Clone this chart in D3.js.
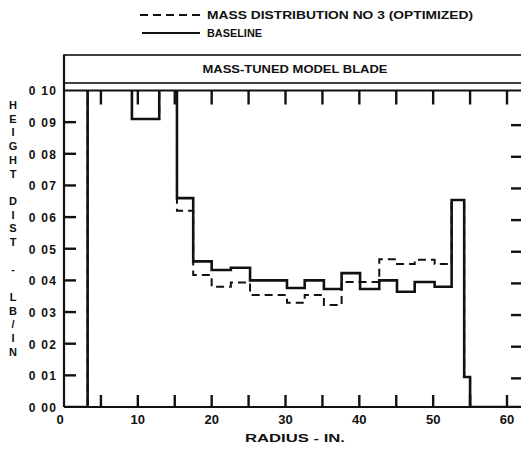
<!DOCTYPE html>
<html>
<head>
<meta charset="utf-8">
<script src="https://cdn.jsdelivr.net/npm/d3@7"></script>
<style>
  body { margin: 0; background: #fff; }
  text { font-family: "Liberation Sans", Arial, sans-serif; font-weight: bold; fill: #111; }
</style>
</head>
<body>
<script>
// step edges along the blade (in.) and the value held on each segment
const radiusEdges = [0, 3.2, 9.2, 12.9, 15.3, 17.5, 20.0, 22.6, 25.2, 30.2, 32.6, 35.2, 37.6, 40.1, 42.7, 45.1, 47.5, 50.2, 52.5, 54.2, 55.0, 62]
const baseline = [0, 0.12, 0.091, 0.12, 0.066, 0.046, 0.0433, 0.044, 0.040, 0.0376, 0.040, 0.0373, 0.0423, 0.0373, 0.040, 0.0364, 0.0395, 0.038, 0.0654, 0.0095, 0]
const optimized = [0, 0.12, 0.091, 0.12, 0.062, 0.0417, 0.038, 0.0393, 0.0354, 0.0329, 0.0354, 0.0322, 0.0395, 0.0395, 0.0467, 0.0452, 0.0465, 0.0452, 0.0654, 0.0095, 0]
const xTicks = [5, 10, 15, 20, 25, 30, 35, 40, 45, 50, 55, 60]
const xLabels = [0, 10, 20, 30, 40, 50, 60]
const yTicks = [0, 0.01, 0.02, 0.03, 0.04, 0.05, 0.06, 0.07, 0.08, 0.09, 0.10]
const yLabels = ['0 00', '0 01', '0 02', '0 03', '0 04', '0 05', '0 06', '0 07', '0 08', '0 09', '0 10']
const yTitle = ['H', 'E', 'I', 'G', 'H', 'T', '', 'D', 'I', 'S', 'T', '', '-', '', 'L', 'B', '/', 'I', 'N']

const W = 521, H = 449
const pLeft = 64, pRight = 523, pTop = 90.5, pBottom = 407

const svg = d3.select('body').append('svg')
  .attr('width', W).attr('height', H)

const x = d3.scaleLinear().domain([0, 60]).range([pLeft, 507])
const y = d3.scaleLinear().domain([0, 0.10]).range([pBottom, pTop])

svg.append('clipPath').attr('id', 'plot')
  .append('rect').attr('x', pLeft).attr('y', pTop).attr('width', pRight - pLeft).attr('height', pBottom - pTop)

// frame and title box
svg.append('rect').attr('x', pLeft).attr('y', 55).attr('width', pRight - pLeft).attr('height', 28)
  .attr('fill', 'none').attr('stroke', '#111').attr('stroke-width', 1.6)
svg.append('line').attr('x1', pLeft).attr('x2', pRight).attr('y1', pTop).attr('y2', pTop)
  .attr('stroke', '#111').attr('stroke-width', 2.2)
svg.append('line').attr('x1', pLeft).attr('x2', pLeft).attr('y1', 55).attr('y2', pBottom)
  .attr('stroke', '#111').attr('stroke-width', 2.2)
svg.append('line').attr('x1', pLeft).attr('x2', pRight).attr('y1', pBottom).attr('y2', pBottom)
  .attr('stroke', '#111').attr('stroke-width', 2.2)

svg.append('text').attr('x', 295).attr('y', 73).attr('text-anchor', 'middle')
  .attr('font-size', 11).attr('textLength', 185).attr('lengthAdjust', 'spacingAndGlyphs')
  .text('MASS-TUNED MODEL BLADE')

// ticks: bottom up, top down, left right, right left
const tickLine = (cls, data, x1, x2, y1, y2) =>
  svg.append('g').attr('class', cls).selectAll('line').data(data).join('line')
    .attr('x1', x1).attr('x2', x2).attr('y1', y1).attr('y2', y2)
    .attr('stroke', '#111').attr('stroke-width', 2.4)

tickLine('bt', xTicks, d => x(d), d => x(d), pBottom, pBottom - 12)
tickLine('tt', xTicks, d => x(d), d => x(d), pTop, pTop + 14)
tickLine('lt', yTicks.slice(1, -1), pLeft, pLeft + 12, d => y(d), d => y(d))
tickLine('rt', yTicks.slice(1, -1), 511, 521, d => y(d) + 3, d => y(d) + 3)

// tick labels
svg.selectAll('.yl').data(yTicks).join('text').attr('class', 'yl')
  .attr('x', 57).attr('y', d => y(d) + 1).attr('dy', '0.32em').attr('text-anchor', 'end')
  .attr('font-size', 12).attr('letter-spacing', 1.2)
  .text((d, i) => yLabels[i])
svg.selectAll('.xl').data(xLabels).join('text').attr('class', 'xl')
  .attr('x', d => x(d) - (d === 0 ? 4 : 0)).attr('y', 424).attr('text-anchor', 'middle')
  .attr('font-size', 13)
  .text(d => d)

svg.append('text').attr('x', 245).attr('y', 442)
  .attr('font-size', 10).attr('textLength', 100).attr('lengthAdjust', 'spacingAndGlyphs')
  .text('RADIUS -  IN.')

svg.selectAll('.yt').data(yTitle).join('text').attr('class', 'yt')
  .attr('x', 13).attr('y', (d, i) => 109 + i * 13.7).attr('text-anchor', 'middle')
  .attr('font-size', 11)
  .text(d => d)

// step lines
const stepLine = d3.line().x(d => x(d[0])).y(d => y(d[1])).curve(d3.curveStepAfter)
const pts = vals => radiusEdges.map((r, i) => [r, vals[Math.min(i, vals.length - 1)]])

const plot = svg.append('g').attr('clip-path', 'url(#plot)')
plot.append('path').datum(pts(optimized)).attr('d', stepLine)
  .attr('fill', 'none').attr('stroke', '#111').attr('stroke-width', 2).attr('stroke-dasharray', '8,5')
plot.append('path').datum(pts(baseline)).attr('d', stepLine)
  .attr('fill', 'none').attr('stroke', '#111').attr('stroke-width', 2.6)

// legend
const lg = svg.append('g')
lg.append('line').attr('x1', 140).attr('x2', 200).attr('y1', 15).attr('y2', 15)
  .attr('stroke', '#111').attr('stroke-width', 2).attr('stroke-dasharray', '8,5')
lg.append('line').attr('x1', 142).attr('x2', 200).attr('y1', 33).attr('y2', 33)
  .attr('stroke', '#111').attr('stroke-width', 1.8)
lg.append('text').attr('x', 207).attr('y', 19).attr('font-size', 11)
  .attr('textLength', 266).attr('lengthAdjust', 'spacingAndGlyphs')
  .text('MASS DISTRIBUTION NO 3 (OPTIMIZED)')
lg.append('text').attr('x', 207).attr('y', 37).attr('font-size', 11)
  .attr('textLength', 55).attr('lengthAdjust', 'spacingAndGlyphs')
  .text('BASELINE')
</script>
</body>
</html>
